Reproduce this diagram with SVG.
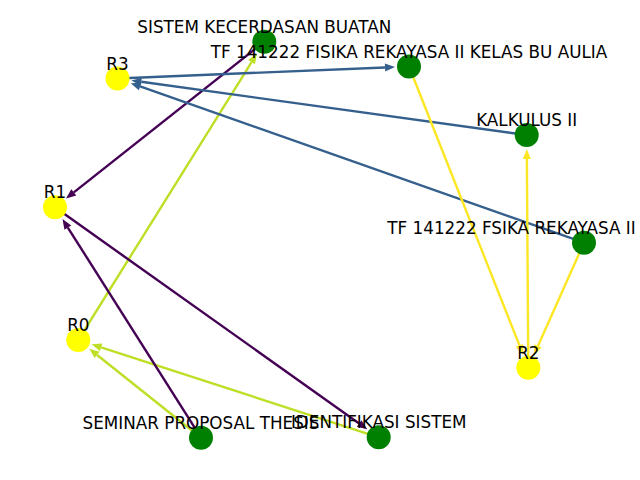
<svg xmlns="http://www.w3.org/2000/svg" width="640" height="480" viewBox="0 0 640 480">
<style>
.e{fill:none;stroke-width:2.4}
.p{stroke:#440154;marker-end:url(#mp)}
.b{stroke:#35608d;marker-end:url(#mb)}
.g{stroke:#bddf26;marker-end:url(#mg)}
.y{stroke:#fde725;marker-end:url(#my)}
.n1{fill:#008000}
.n2{fill:#ffff00}
text{font-family:"DejaVu Sans",sans-serif;font-size:16.8px;fill:#000;text-anchor:middle}
</style>
<defs>
<marker id="mp" markerUnits="userSpaceOnUse" markerWidth="12" markerHeight="10" refX="0" refY="5" orient="auto" overflow="visible"><path d="M0,1 L10,5 L0,9 z" fill="#440154"/></marker>
<marker id="mb" markerUnits="userSpaceOnUse" markerWidth="12" markerHeight="10" refX="0" refY="5" orient="auto" overflow="visible"><path d="M0,1 L10,5 L0,9 z" fill="#35608d"/></marker>
<marker id="mg" markerUnits="userSpaceOnUse" markerWidth="12" markerHeight="10" refX="0" refY="5" orient="auto" overflow="visible"><path d="M0,1 L10,5 L0,9 z" fill="#bddf26"/></marker>
<marker id="my" markerUnits="userSpaceOnUse" markerWidth="12" markerHeight="10" refX="0" refY="5" orient="auto" overflow="visible"><path d="M0,1 L10,5 L0,9 z" fill="#fde725"/></marker>
</defs>
<rect width="640" height="480" fill="#fff"/>
<g id="edges">
<line class="e g" x1="78.3" y1="340" x2="251.6" y2="62.07"/>
<line class="e g" x1="201" y1="437.7" x2="97.08" y2="354.95"/>
<line class="e g" x1="378.7" y1="437.3" x2="101.13" y2="347.39"/>
<line class="e p" x1="264.3" y1="41.7" x2="73.82" y2="192.41"/>
<line class="e p" x1="201" y1="437.7" x2="67.84" y2="227.57"/>
<line class="e p" x1="55" y1="207.3" x2="359.14" y2="423.4"/>
<line class="e b" x1="117.5" y1="78.5" x2="385.02" y2="67.49"/>
<line class="e b" x1="526.7" y1="135" x2="141.27" y2="81.78"/>
<line class="e b" x1="584" y1="242.7" x2="140.14" y2="86.47"/>
<line class="e y" x1="528.3" y1="367.7" x2="526.87" y2="159"/>
<line class="e y" x1="409" y1="66.5" x2="519.46" y2="345.39"/>
<line class="e y" x1="584" y1="242.7" x2="538.07" y2="345.77"/>
</g>
<g id="n_sistem"><circle class="n1" cx="264.3" cy="41.7" r="12"/><text x="264.3" y="33">SISTEM KECERDASAN BUATAN</text></g>
<g id="n_tfaulia"><circle class="n1" cx="409" cy="66.5" r="12"/><text x="409" y="57.5">TF 141222 FISIKA REKAYASA II KELAS BU AULIA</text></g>
<g id="n_r3"><circle class="n2" cx="117.5" cy="78.5" r="12"/><text x="117.5" y="69.5">R3</text></g>
<g id="n_kalkulus"><circle class="n1" cx="526.7" cy="135" r="12"/><text x="526.7" y="126">KALKULUS II</text></g>
<g id="n_tffsika"><circle class="n1" cx="584" cy="242.7" r="12"/><text x="511.5" y="234">TF 141222 FSIKA REKAYASA II</text></g>
<g id="n_r1"><circle class="n2" cx="55" cy="207.3" r="12"/><text x="55" y="198.3">R1</text></g>
<g id="n_r0"><circle class="n2" cx="78.3" cy="340" r="12"/><text x="78.3" y="331">R0</text></g>
<g id="n_r2"><circle class="n2" cx="528.3" cy="367.7" r="12"/><text x="528.3" y="358.7">R2</text></g>
<g id="n_seminar"><circle class="n1" cx="201" cy="437.7" r="12"/><text x="201" y="428.7">SEMINAR PROPOSAL THESIS</text></g>
<g id="n_ident"><circle class="n1" cx="378.7" cy="437.3" r="12"/><text x="378.7" y="428.3">IDENTIFIKASI SISTEM</text></g>
</svg>
